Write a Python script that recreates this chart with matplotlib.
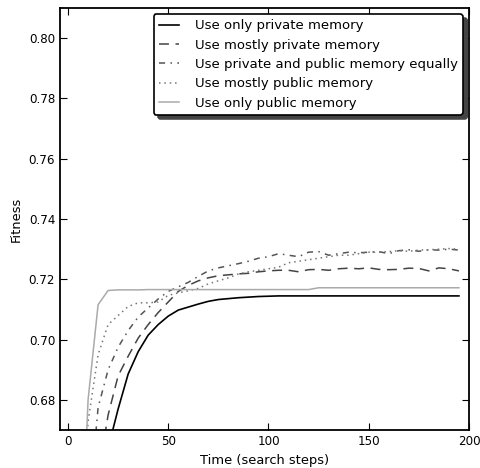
import numpy as np
import matplotlib
matplotlib.use('Agg')
import matplotlib.pyplot as plt

# time axis (search steps)
steps = list(range(0, 200, 5))

only_private = [0.600, 0.600, 0.620, 0.645, 0.664, 0.677, 0.6886, 0.696, 0.7015, 0.705,
                0.7078, 0.7098, 0.7108, 0.7118, 0.7127, 0.7133, 0.7136, 0.7139, 0.7141, 0.7143,
                0.7144, 0.7145, 0.7145, 0.7145, 0.7145, 0.7145, 0.7145, 0.7145, 0.7145, 0.7145,
                0.7145, 0.7145, 0.7145, 0.7145, 0.7145, 0.7145, 0.7145, 0.7145, 0.7145, 0.7145]

mostly_private = [0.600, 0.610, 0.630, 0.655, 0.675, 0.688, 0.6945, 0.7005, 0.705, 0.709,
                  0.7125, 0.716, 0.718, 0.7195, 0.7205, 0.7212, 0.7215, 0.7218, 0.722, 0.7225,
                  0.7228, 0.723, 0.723, 0.7225, 0.7232, 0.7233, 0.723, 0.7235, 0.7237, 0.7235,
                  0.7238, 0.7233, 0.7232, 0.7233, 0.7237, 0.7236, 0.7228, 0.7238, 0.7235, 0.7228]

equal_mix = [0.600, 0.620, 0.640, 0.6775, 0.690, 0.6975, 0.703, 0.7075, 0.7105, 0.7135,
             0.716, 0.7175, 0.719, 0.721, 0.7228, 0.7238, 0.7245, 0.7252, 0.726, 0.727,
             0.7275, 0.7285, 0.728, 0.7275, 0.729, 0.7292, 0.728, 0.7285, 0.729, 0.7288,
             0.729, 0.7292, 0.7285, 0.7295, 0.7298, 0.7293, 0.7298, 0.7297, 0.730, 0.7297]

mostly_public = [0.600, 0.620, 0.6728, 0.695, 0.705, 0.708, 0.711, 0.7122, 0.7122, 0.7125,
                 0.7147, 0.7155, 0.7162, 0.717, 0.7185, 0.7195, 0.7205, 0.7218, 0.7225, 0.723,
                 0.7235, 0.724, 0.7255, 0.726, 0.7265, 0.727, 0.7275, 0.728, 0.728, 0.7285,
                 0.729, 0.729, 0.7292, 0.7295, 0.7293, 0.7297, 0.7298, 0.730, 0.7302, 0.730]

only_public = [0.550, 0.600, 0.680, 0.7116, 0.7163, 0.7165, 0.7165, 0.7165, 0.7166, 0.7166,
               0.7166, 0.7166, 0.7166, 0.7166, 0.7166, 0.7166, 0.7166, 0.7166, 0.7166, 0.7166,
               0.7166, 0.7166, 0.7166, 0.7166, 0.7166, 0.7172, 0.7172, 0.7172, 0.7172, 0.7172,
               0.7172, 0.7172, 0.7172, 0.7172, 0.7172, 0.7172, 0.7172, 0.7172, 0.7172, 0.7172]

labels = ['Use only private memory',
          'Use mostly private memory',
          'Use private and public memory equally',
          'Use mostly public memory',
          'Use only public memory']

fig = plt.figure(figsize=(4.8, 4.68), dpi=100)
ax = fig.add_axes([0.125, 0.081, 0.852, 0.902])

ax.plot(steps, only_private, color='black', linestyle='-', linewidth=1.2, label=labels[0])
ax.plot(steps, mostly_private, color='#444444', linestyle=(0, (6.5, 4.3)), linewidth=1.1, label=labels[1])
ax.plot(steps, equal_mix, color='#555555', linestyle=(0, (4, 3.5, 1, 3.5)), linewidth=1.1, label=labels[2])
ax.plot(steps, mostly_public, color='#777777', linestyle=(0, (1, 2.5)), linewidth=1.1, label=labels[3])
ax.plot(steps, only_public, color='#aaaaaa', linestyle='-', linewidth=1.1, label=labels[4])

ax.set_xlim(-4, 200)
ax.set_ylim(0.67, 0.81)
ax.set_xticks([0, 50, 100, 150, 200])
ax.set_yticks([0.68, 0.70, 0.72, 0.74, 0.76, 0.78, 0.80])
ax.tick_params(direction='in', top=True, right=True, length=5, labelsize=8.6)
for s in ax.spines.values():
    s.set_linewidth(1.3)
ax.set_xlabel('Time (search steps)', fontsize=9.4)
ax.set_ylabel('Fitness', fontsize=9.4)

leg = ax.legend(loc='upper right', fontsize=9.5, fancybox=True,
                shadow={'color': '#444444', 'alpha': 1.0, 'ox': 3, 'oy': -3},
                framealpha=1, borderaxespad=0.45, handlelength=1.5,
                handletextpad=1.2, labelspacing=0.48)
leg.get_frame().set_edgecolor('black')
leg.get_frame().set_linewidth(1.2)

fig.savefig('out.png', dpi=100)
